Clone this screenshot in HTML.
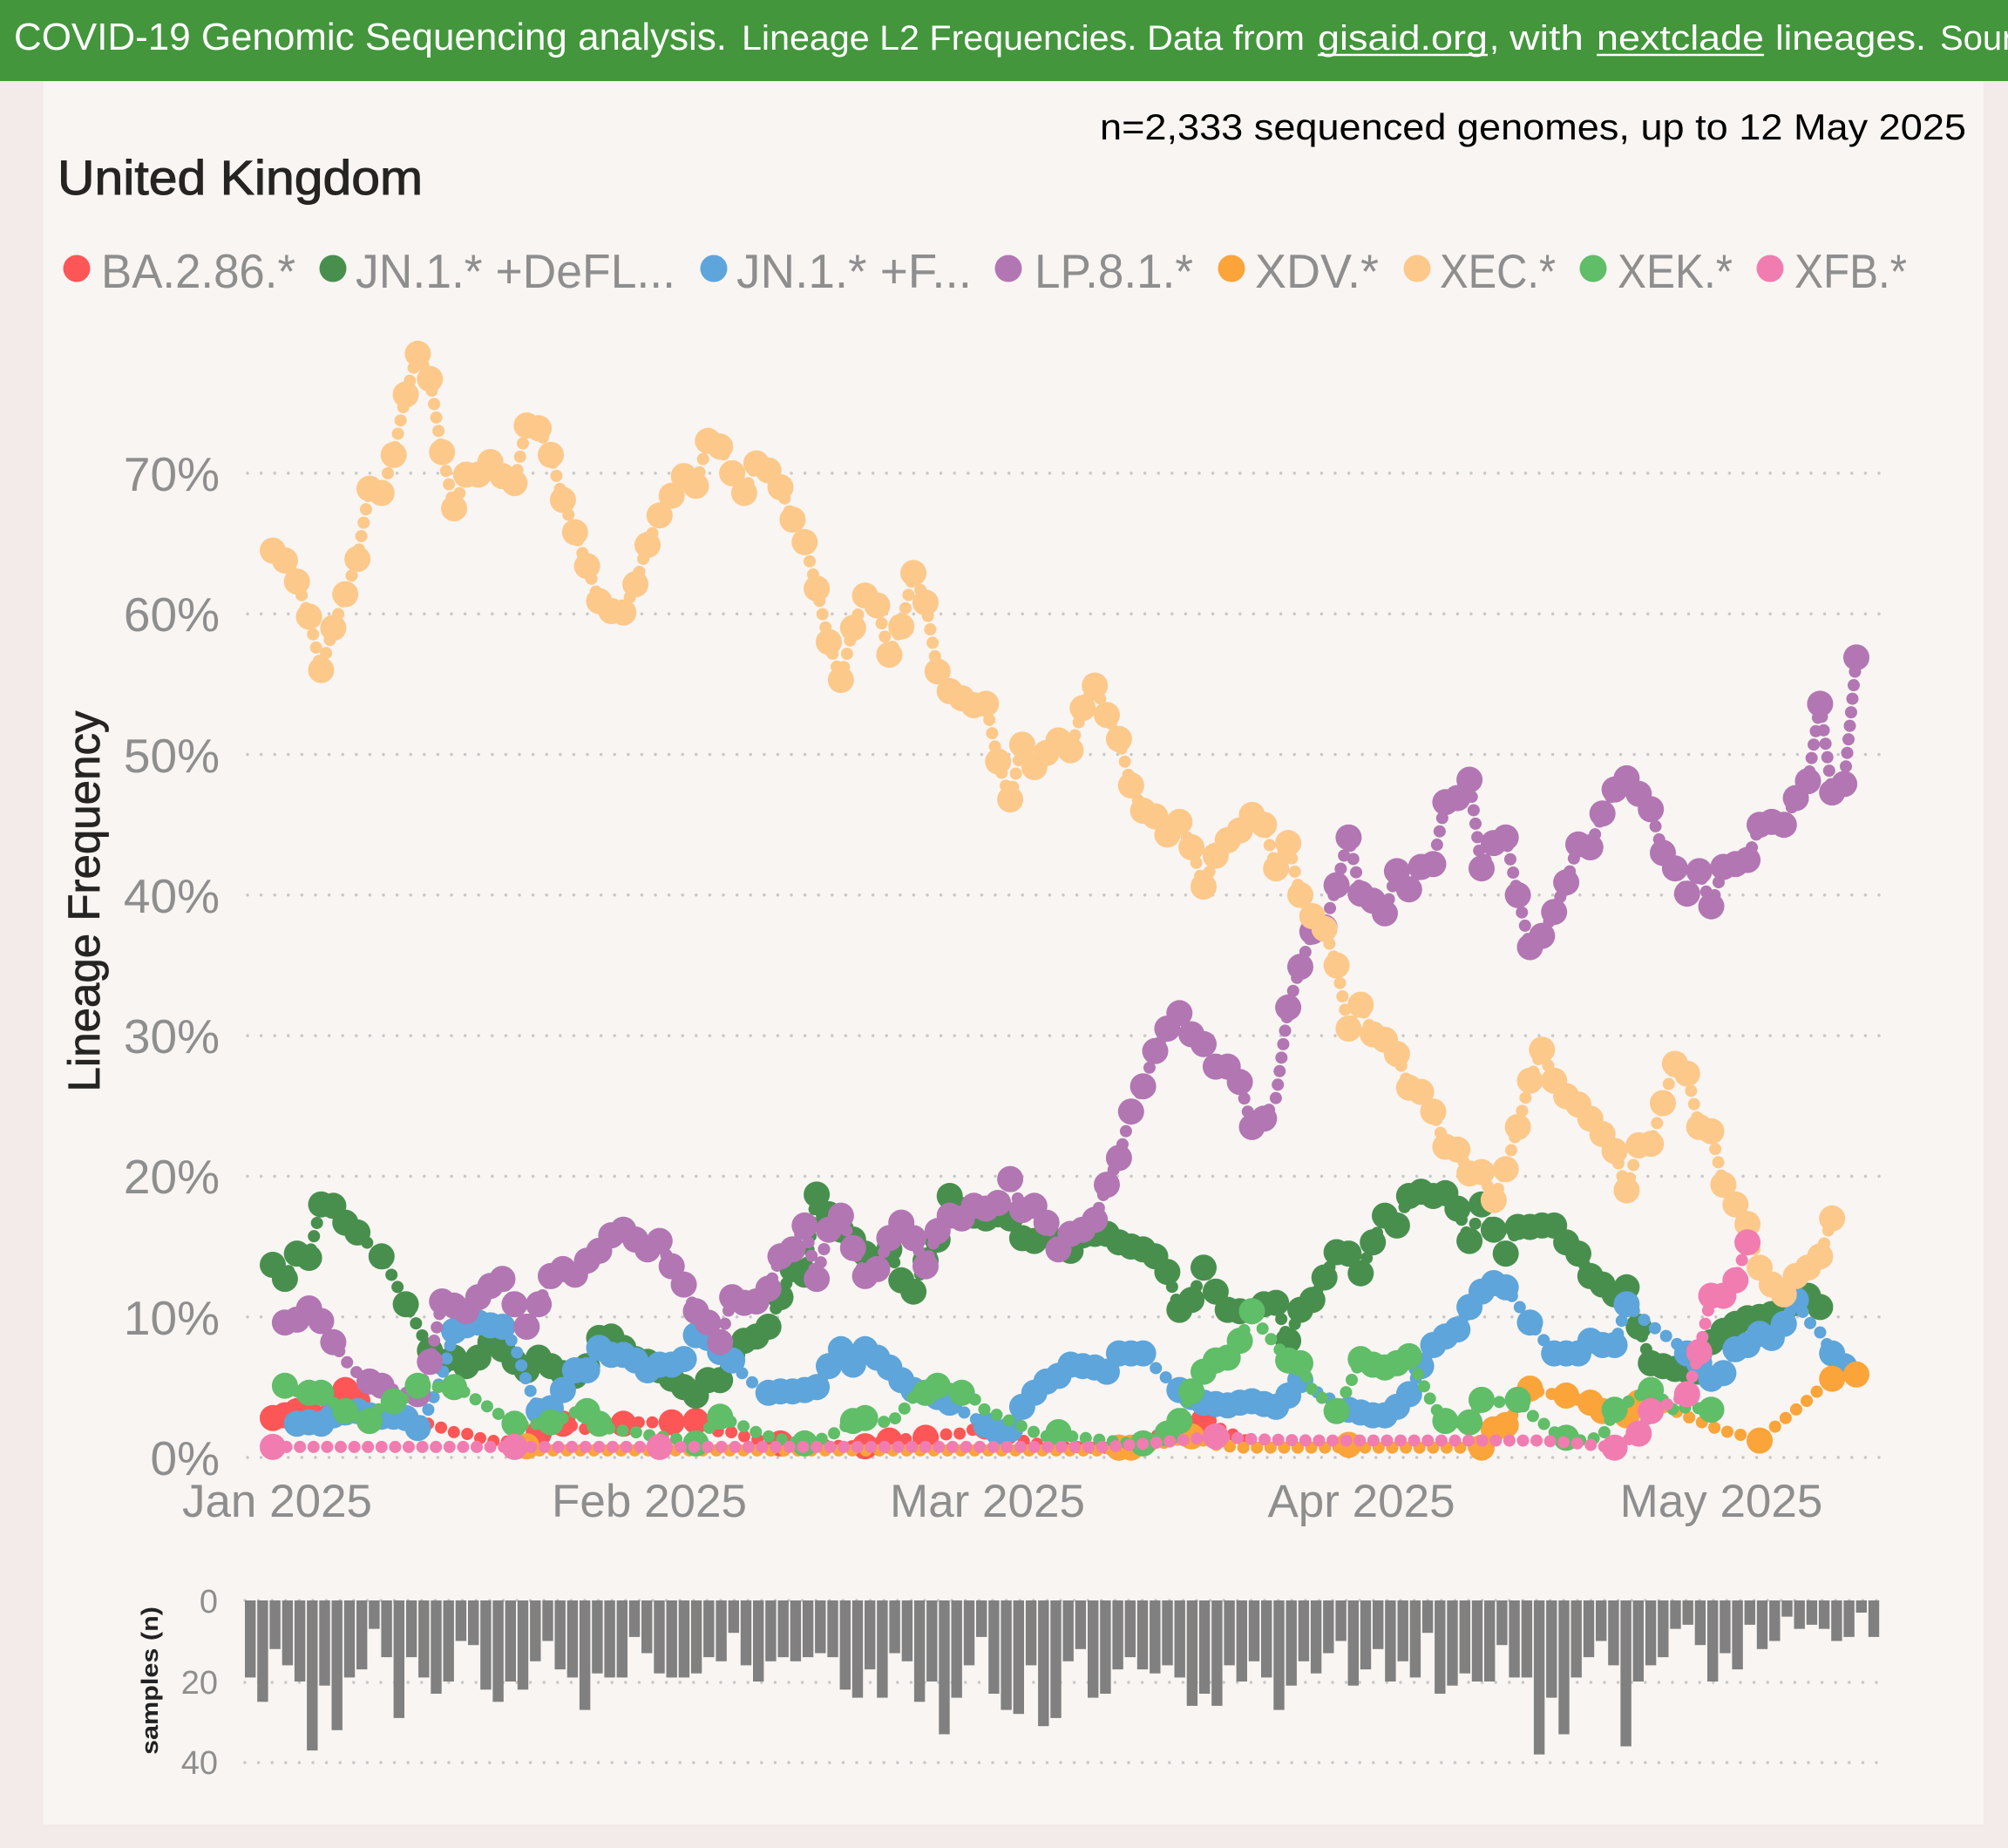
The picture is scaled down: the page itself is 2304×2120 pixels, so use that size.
<!DOCTYPE html>
<html><head><meta charset="utf-8">
<style>
html,body{margin:0;padding:0;background:#F3EAEA;overflow:hidden;width:2304px;height:2120px;}
svg{display:block;font-family:"Liberation Sans",Arial,sans-serif;}
</style></head>
<body>
<svg id="s" xmlns="http://www.w3.org/2000/svg" width="2304" height="2120" viewBox="0 0 2304 2120">
<rect width="2304" height="2120" fill="#F3EAEA"/>
<rect x="50" y="93" width="2226" height="2000" fill="#F8F5F3"/>
<rect width="2304" height="93" fill="#43963C"/>
<g fill="#FFFFFF">
<text x="16" y="57" font-size="44" textLength="818" lengthAdjust="spacingAndGlyphs">COVID-19 Genomic Sequencing analysis.</text>
<text x="851" y="57" font-size="40" textLength="646" lengthAdjust="spacingAndGlyphs">Lineage L2 Frequencies. Data from</text>
<text x="1512" y="57" font-size="40" textLength="195" lengthAdjust="spacingAndGlyphs">gisaid.org</text>
<text x="1709" y="57" font-size="40">,</text>
<text x="1732" y="57" font-size="40" textLength="85" lengthAdjust="spacingAndGlyphs">with</text>
<text x="1832" y="57" font-size="40" textLength="192" lengthAdjust="spacingAndGlyphs">nextclade</text>
<text x="2037" y="57" font-size="40" textLength="173" lengthAdjust="spacingAndGlyphs">lineages.</text>
<text x="2226" y="57" font-size="40">Source: covid19.sequencing</text>
</g>
<line x1="1512" y1="63" x2="1707" y2="63" stroke="#FFFFFF" stroke-width="2.5"/>
<line x1="1832" y1="63" x2="2024" y2="63" stroke="#FFFFFF" stroke-width="2.5"/>

<text x="1262" y="160" font-size="42" fill="#000000" textLength="994" lengthAdjust="spacingAndGlyphs">n=2,333 sequenced genomes, up to 12 May 2025</text>
<text x="66" y="223" font-size="56" fill="#252423" stroke="#252423" stroke-width="1" textLength="419" lengthAdjust="spacingAndGlyphs">United Kingdom</text>

<!-- legend -->
<g font-size="55" fill="#8E8E8E">
<circle cx="88" cy="308" r="15.5" fill="#FD5656"/>
<text x="116" y="330" textLength="223" lengthAdjust="spacingAndGlyphs">BA.2.86.*</text>
<circle cx="382" cy="308" r="15.5" fill="#488F4E"/>
<text x="408" y="330" textLength="367" lengthAdjust="spacingAndGlyphs">JN.1.* +DeFL...</text>
<circle cx="819" cy="308" r="15.5" fill="#5DA5DA"/>
<text x="845" y="330" textLength="270" lengthAdjust="spacingAndGlyphs">JN.1.* +F...</text>
<circle cx="1157" cy="308" r="15.5" fill="#B276B2"/>
<text x="1187" y="330" textLength="182" lengthAdjust="spacingAndGlyphs">LP.8.1.*</text>
<circle cx="1413" cy="308" r="15.5" fill="#FAA43A"/>
<text x="1440" y="330" textLength="142" lengthAdjust="spacingAndGlyphs">XDV.*</text>
<circle cx="1626" cy="308" r="15.5" fill="#FCC98B"/>
<text x="1652" y="330" textLength="133" lengthAdjust="spacingAndGlyphs">XEC.*</text>
<circle cx="1828" cy="308" r="15.5" fill="#60BD68"/>
<text x="1856" y="330" textLength="132" lengthAdjust="spacingAndGlyphs">XEK.*</text>
<circle cx="2031" cy="308" r="15.5" fill="#F17CB0"/>
<text x="2059" y="330" textLength="129" lengthAdjust="spacingAndGlyphs">XFB.*</text>
</g>

<!-- gridlines main -->
<g stroke="#C8C8C8" stroke-width="3.5" stroke-linecap="round" stroke-dasharray="0 15.6">
<line x1="284" x2="2160" y1="1672" y2="1672"/>
<line x1="284" x2="2160" y1="1510.7" y2="1510.7"/>
<line x1="284" x2="2160" y1="1349.4" y2="1349.4"/>
<line x1="284" x2="2160" y1="1188.1" y2="1188.1"/>
<line x1="284" x2="2160" y1="1026.8" y2="1026.8"/>
<line x1="284" x2="2160" y1="865.5" y2="865.5"/>
<line x1="284" x2="2160" y1="704.2" y2="704.2"/>
<line x1="284" x2="2160" y1="542.9" y2="542.9"/>
<line x1="281" x2="2160" y1="1836" y2="1836"/>
<line x1="281" x2="2160" y1="1930" y2="1930"/>
<line x1="281" x2="2160" y1="2022" y2="2022"/>
</g>

<!-- y tick labels -->
<g font-size="55" fill="#8E8E8E" text-anchor="end">
<text x="252" y="1692">0%</text>
<text x="252" y="1531">10%</text>
<text x="252" y="1369">20%</text>
<text x="252" y="1208">30%</text>
<text x="252" y="1047">40%</text>
<text x="252" y="886">50%</text>
<text x="252" y="724">60%</text>
<text x="252" y="563">70%</text>
</g>
<!-- x labels -->
<g font-size="53" fill="#8E8E8E" text-anchor="middle">
<text x="318" y="1740">Jan 2025</text>
<text x="745" y="1740">Feb 2025</text>
<text x="1133" y="1740">Mar 2025</text>
<text x="1562" y="1740">Apr 2025</text>
<text x="1975" y="1740">May 2025</text>
</g>
<text transform="translate(114,1034) rotate(-90)" text-anchor="middle" font-size="51" fill="#252423" stroke="#252423" stroke-width="0.8" textLength="437" lengthAdjust="spacingAndGlyphs">Lineage Frequency</text>

<!-- bars chart labels -->
<g font-size="38" fill="#8E8E8E" text-anchor="end">
<text x="250" y="1850">0</text>
<text x="250" y="1943">20</text>
<text x="250" y="2035">40</text>
</g>
<text transform="translate(181,1928) rotate(-90)" text-anchor="middle" font-size="27" font-weight="bold" fill="#222222" textLength="170" lengthAdjust="spacingAndGlyphs">samples (n)</text>

<g id="series"></g>
<g id="bars" fill="#808080"></g>
</svg>
<script>
(function(){
var NS='http://www.w3.org/2000/svg';
function X(d){return 313+13.87*d;}
function Y(p){return 1672-16.13*p;}
function arr(start,vals){return vals.map(function(v,i){return [start+i,v];});}
function interp(kp){var out=[];for(var i=0;i<kp.length-1;i++){var d0=kp[i][0],p0=kp[i][1],d1=kp[i+1][0],p1=kp[i+1][1];for(var d=d0;d<d1;d++){out.push([d,p0+(p1-p0)*(d-d0)/(d1-d0)]);}}out.push(kp[kp.length-1]);return out;}
function inSet(list){var s={};list.forEach(function(d){s[d]=1;});return function(d){return !!s[d];};}
function except(list){var s={};list.forEach(function(d){s[d]=1;});return function(d){return !s[d];};}

var red=arr(0,[2.8,3.0,3.3,3.2,3.0,4.0,4.8,4.0,3.5,3.0,
2.8,2.6,2.4,2.4,2.1,1.8,1.7,1.4,1.2,1.1,
1.2,1.4,1.7,2.0,2.4,2.2,2.0,2.1,2.3,2.4,
2.5,2.5,2.5,2.5,2.6,2.6,2.2,1.8,1.8,1.5,
1.3,1.1,1.0,0.9,0.9,0.9,0.9,0.8,0.8,0.8,
1.0,1.2,1.3,1.3,1.4,1.5,1.7,1.7,2.0,2.2,
1.8,1.4,1.2,1.0,0.9,0.8,0.8,0.7,0.7,0.7,
0.7,0.9,1.2,1.5,1.9,2.3,2.6,2.6,2.2,1.8,
1.4,1.0]);

var defl=arr(0,[13.7,12.7,14.5,14.2,18.0,17.9,16.7,16.0,15.1,14.3,
12.7,10.9,9.3,7.6,6.8,7.1,6.5,7.1,8.2,7.7,
6.8,6.2,7.1,6.5,6.0,5.8,6.5,8.5,8.6,7.8,
7.0,6.8,6.2,5.6,5.0,4.4,5.5,5.5,7.3,8.3,
8.6,9.3,11.4,13.4,13.0,18.7,17.3,16.2,15.5,14.5,
14.0,14.8,12.6,11.8,14.0,15.5,18.6,17.6,17.2,17.0,
17.3,17.0,15.6,15.4,15.9,15.0,14.7,15.8,15.9,15.9,
15.3,15.0,14.8,14.3,13.2,10.5,11.2,13.5,11.8,10.5,
10.4,10.4,10.9,11.0,8.3,10.5,11.2,12.8,14.6,14.5,
13.1,15.3,17.2,16.5,18.6,18.9,18.6,18.8,17.7,15.4,
18.0,16.2,14.5,16.4,16.4,16.5,16.5,15.3,14.5,12.9,
12.3,11.6,12.1,9.3,6.7,6.5,6.3,6.2,6.1,8.2,
9.0,9.5,9.9,10.0,10.2,10.5,11.0,11.5,10.7]);

var blue=arr(2,[2.4,2.5,2.4,3.0,3.2,3.3,3.0,2.9,
2.9,2.8,2.1,3.6,5.8,9.0,9.4,9.6,9.4,9.3,
8.0,5.4,3.3,3.5,4.8,6.2,6.2,7.8,7.3,7.3,
6.9,6.2,6.6,6.6,7.0,8.7,8.5,7.5,6.9,5.8,
5.1,4.6,4.7,4.7,4.8,5.0,6.5,7.7,6.6,7.7,
7.1,6.4,5.5,4.8,4.6,4.3,3.9,3.3,2.8,2.3,
1.8,2.0,3.6,4.6,5.4,5.8,6.6,6.5,6.4,6.1,
7.4,7.4,7.4,6.4,5.6,4.8,4.3,3.9,3.8,3.7,
3.9,4.0,3.8,3.6,4.4,5.5,4.8,4.4,3.9,3.4,
3.2,3.0,3.0,3.6,4.5,6.5,8.0,8.6,9.1,10.7,
11.8,12.4,12.1,10.9,9.6,8.5,7.4,7.4,7.4,8.3,
8.0,8.0,10.9,10.1,9.4,8.8,8.2,7.4,6.7,5.6,
6.0,7.7,8.0,8.8,8.5,9.5,11.2,9.7,8.9,7.4,
6.5]);

var lp=arr(1,[9.6,9.8,10.6,9.7,8.2,6.9,6.0,5.4,5.1,4.8,
4.6,4.5,6.8,11.1,10.8,10.4,11.4,12.2,12.7,10.9,
9.3,10.9,12.9,13.4,13.0,14.0,14.7,15.8,16.2,15.5,
14.8,15.4,13.6,12.3,10.4,9.6,8.2,11.4,11.0,11.1,
12.0,14.3,14.8,16.5,12.7,16.2,17.2,14.9,12.9,13.4,
15.6,16.7,15.6,13.6,16.1,17.2,17.0,17.9,17.7,18.1,
19.8,17.6,17.9,16.7,14.8,15.9,16.2,16.9,19.4,21.3,
24.6,26.4,28.9,30.5,31.6,30.1,29.4,27.8,27.8,26.7,
23.5,24.1,25.6,32.0,34.9,37.4,37.7,40.7,44.1,40.1,
39.6,38.7,41.7,40.4,42.0,42.2,46.6,46.9,48.2,41.9,
43.7,44.1,40.0,36.3,37.1,38.8,40.9,43.6,43.4,45.8,
47.5,48.3,47.2,46.1,43.0,41.9,40.1,41.7,39.2,42.0,
42.2,42.5,45.0,45.2,45.0,46.9,48.1,53.6,47.3,47.9,
56.9]);

var xdv=interp([[21,0.8],[22,0.5],[69,0.5],[70,0.7],[72,0.7],[76,1.5],[78,0.9],[80,0.7],[88,0.7],[89,0.9],[90,0.7],[100,0.7],[101,2.0],[102,2.3],[103,3.6],[104,4.9],[105,4.6],[106,4.5],[107,4.4],[108,4.1],[109,3.9],[110,3.3],[111,3.1],[112,3.0],[113,3.9],[114,3.8],[115,3.6],[116,3.3],[117,2.9],[118,2.6],[119,2.2],[120,1.9],[121,1.7],[122,1.5],[123,1.2],[124,2.0],[125,2.7],[126,3.4],[127,4.1],[128,4.9],[129,5.6],[130,5.8],[131,5.9]]);

var xec=arr(0,[64.5,63.8,62.3,59.8,56.0,59.0,61.4,63.9,68.9,68.6,
71.3,75.6,78.5,76.7,71.5,67.5,69.9,69.9,70.8,69.8,
69.3,73.4,73.2,71.3,68.1,65.8,63.4,60.9,60.2,60.1,
62.1,64.9,67.0,68.4,69.8,69.1,72.3,71.9,70.0,68.6,
70.7,70.2,69.0,66.7,65.1,61.8,58.0,55.3,59.0,61.3,
60.6,57.1,59.1,62.9,60.8,55.9,54.5,54.0,53.5,53.6,
49.5,46.8,50.7,49.1,50.1,51.0,50.3,53.3,54.9,52.8,
51.1,47.8,46.0,45.6,44.3,45.2,43.4,40.6,42.8,43.9,
44.6,45.7,45.0,41.9,43.7,40.0,38.5,37.6,35.0,30.5,
32.2,30.1,29.7,28.7,26.3,26.0,24.6,22.1,21.9,20.2,
20.3,18.3,20.5,23.5,26.8,29.0,26.8,25.7,25.1,24.1,
23.0,21.8,19.0,22.2,22.3,25.2,28.0,27.3,23.5,23.2,
19.4,18.0,16.6,13.5,12.3,11.6,12.9,13.5,14.3,17.0]);

var xek=arr(1,[5.1,4.7,4.6,4.6,3.9,3.3,2.9,2.6,3.7,
4.0,4.2,5.1,5.0,5.0,5.0,4.6,4.0,3.5,2.9,
2.4,2.3,2.4,2.5,2.8,3.2,3.3,2.4,2.0,1.9,
1.8,1.6,1.5,1.4,1.2,1.0,2.0,2.9,2.5,2.2,
1.8,1.5,1.3,1.1,1.0,1.2,1.5,2.0,2.6,2.8,
2.7,2.4,3.2,4.3,4.6,5.1,4.9,4.6,4.2,3.3,
3.0,2.6,2.2,1.8,1.5,1.8,1.5,1.4,1.3,1.2,
1.1,1.0,1.0,1.3,1.7,2.6,4.7,6.1,6.9,7.1,
8.3,10.4,9.0,8.0,6.9,6.7,4.8,4.1,3.3,5.0,
7.0,6.6,6.4,6.7,7.2,5.5,3.7,2.6,2.5,2.5,
4.1,3.9,4.0,4.1,3.1,2.5,1.8,1.4,1.2,1.3,
1.5,3.4,3.9,4.4,4.8,4.1,3.3,3.6,3.5,3.4]);

var xfb=interp([[0,0.75],[69,0.75],[75,1.2],[78,1.5],[81,1.3],[86,1.2],[105,1.2],[108,1.0],[111,0.7],[113,1.7],[114,3.3],[116,4.0],[117,4.5],[118,7.5],[119,11.5],[120,11.5],[121,12.6],[122,15.3]]);

var series=[
 {c:'#FD5656',p:red,n:inSet([0,1,2,3,5,6,7,22,24,29,33,35,42,49,51,54,59,70,77])},
 {c:'#488F4E',p:defl,n:except([8,10,12])},
 {c:'#5DA5DA',p:blue,n:except([13,14,20,21,39,40,57,58,73,74,86,87,88,103,105,113,114,115,116,127,128])},
 {c:'#B276B2',p:lp,n:except([6,7,10,11,83])},
 {c:'#FAA43A',p:xdv,n:inSet([21,70,71,76,89,100,101,102,104,107,109,110,112,113,123,129,131])},
 {c:'#FCC98B',p:xec,n:function(){return true;}},
 {c:'#60BD68',p:xek,n:inSet([1,3,4,6,8,10,12,15,20,23,26,27,35,37,44,48,49,54,55,57,65,72,74,75,76,77,78,79,80,81,84,85,88,90,91,92,93,94,97,99,100,103,107,111,114,119])},
 {c:'#F17CB0',p:xfb,n:inSet([0,20,32,78,111,113,114,117,118,119,120,121,122])}
];
var g=document.getElementById('series');
series.forEach(function(s){
  var pl=document.createElementNS(NS,'polyline');
  pl.setAttribute('points',s.p.map(function(q){return X(q[0]).toFixed(1)+','+Y(q[1]).toFixed(1);}).join(' '));
  pl.setAttribute('fill','none');
  pl.setAttribute('stroke',s.c);
  pl.setAttribute('stroke-width','14');
  pl.setAttribute('stroke-linecap','round');
  pl.setAttribute('stroke-linejoin','round');
  pl.setAttribute('stroke-dasharray','0 15.6');
  g.appendChild(pl);
  s.p.forEach(function(q){
    if(s.n(q[0])){
      var c=document.createElementNS(NS,'circle');
      c.setAttribute('cx',X(q[0]).toFixed(1));
      c.setAttribute('cy',Y(q[1]).toFixed(1));
      c.setAttribute('r','15');
      c.setAttribute('fill',s.c);
      g.appendChild(c);
    }
  });
});

var n=[19,25,12,16,20,37,21,32,19,17,7,14,29,14,19,23,20,10,11,22,25,20,22,15,10,17,19,27,18,19,19,9,13,18,19,19,18,14,15,8,16,20,15,14,15,14,13,14,22,24,17,24,13,15,25,20,33,24,16,9,23,27,28,16,31,29,15,12,24,23,17,14,17,18,16,19,26,23,26,16,20,15,19,27,21,15,18,13,10,21,17,12,20,15,19,8,23,21,18,20,20,11,19,19,38,24,33,19,14,10,16,36,20,16,14,7,6,11,20,13,17,6,12,10,4,7,6,7,10,9,3,9];
var b=document.getElementById('bars');
n.forEach(function(v,i){
  var r=document.createElementNS(NS,'rect');
  r.setAttribute('x',(281+14.22*i).toFixed(1));
  r.setAttribute('y','1836');
  r.setAttribute('width','12.4');
  r.setAttribute('height',(v*4.65).toFixed(1));
  b.appendChild(r);
});
})();
</script>
</body></html>
